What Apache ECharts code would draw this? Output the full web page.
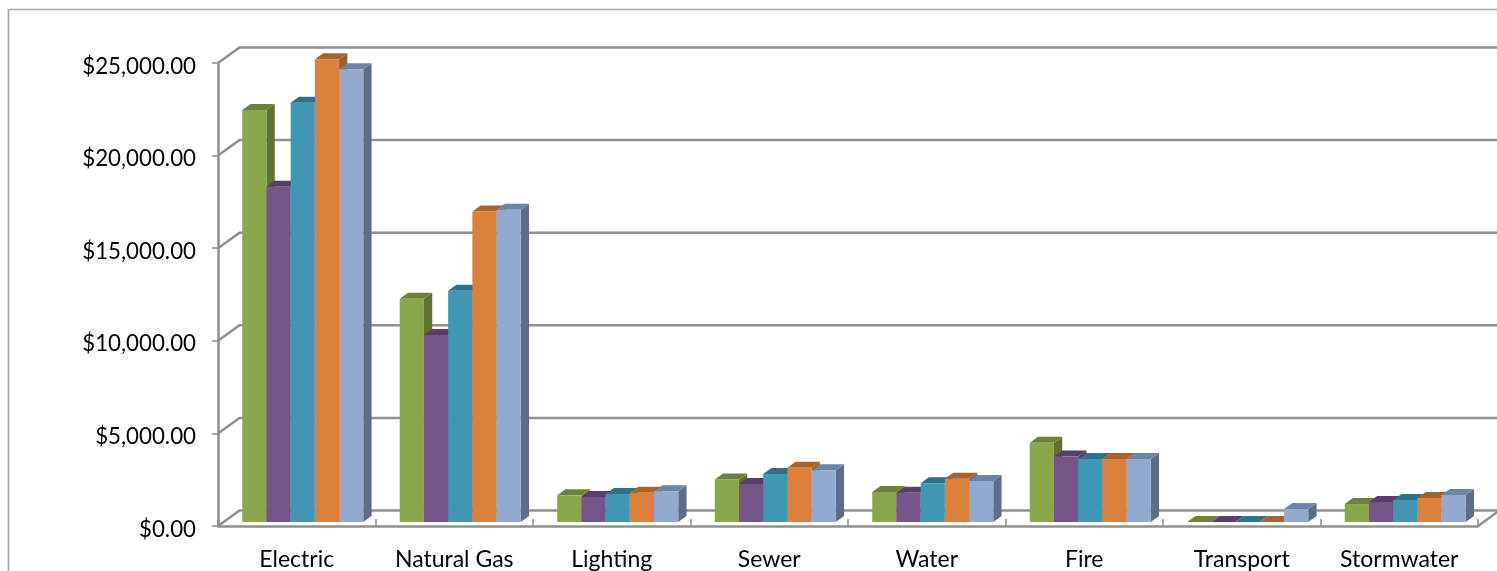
<!DOCTYPE html>
<html><head><meta charset="utf-8">
<style>html,body{margin:0;padding:0;background:#fff}#c{width:1497px;height:571px}</style>
<script src="https://cdn.jsdelivr.net/npm/echarts@6/dist/echarts.min.js"></script>
</head><body><div id="c"></div>
<script>
const categories = ['Electric','Natural Gas','Lighting','Sewer','Water','Fire','Transport','Stormwater'];
const yTicks = [0,5000,10000,15000,20000,25000];
const seriesA = [22250,12060,1440,2300,1620,4280,0,970];
const seriesB = [18100,10100,1350,2050,1580,3530,0,1080];
const seriesC = [22640,12490,1510,2590,2090,3400,0,1190];
const seriesD = [24980,16760,1580,2930,2340,3400,0,1300];
const seriesE = [24440,16860,1660,2790,2210,3400,700,1460];
const palette = [
  {front:'#8aa64c',side:'#5f7232',top:'#6b8237'},
  {front:'#735589',side:'#553e66',top:'#573e6b'},
  {front:'#3f97b4',side:'#2f7286',top:'#2e7288'},
  {front:'#dc813b',side:'#a35d27',top:'#a9622b'},
  {front:'#93a9d0',side:'#5e6d87',top:'#6e83a8'}
];
const wallDx = 21.5, wallDy = -15.5, barShiftX = 6, barShiftY = -4, barDx = 8.3, barDy = -6;
const barFrac = 0.1537;
const gridCol = '#8f8f8f';
const chart = echarts.init(document.getElementById('c'));

function wallItem(params, api){
  const y = api.coord([0, api.value(0)])[1];
  const r = params.coordSys;
  const l = r.x, rt = r.x + r.width;
  const v = api.value(0);
  const pts = v === 0
    ? [[l,y],[l+wallDx,y+wallDy],[rt+wallDx,y+wallDy],[rt,y]]
    : [[l,y],[l+wallDx,y+wallDy],[rt+wallDx+10,y+wallDy]];
  return {type:'polyline',shape:{points:pts},style:{fill:null,stroke:gridCol,lineWidth:2.5},silent:true};
}
function barItem(si){
  return function(params, api){
    const p = api.coord([api.value(0), api.value(1)]);
    const p0 = api.coord([api.value(0), 0]);
    const band = api.size([1,0])[0];
    const w = band*barFrac;
    const c = palette[si];
    const x0 = p[0] - 2.5*w + si*w + barShiftX, x1 = x0 + w;
    const yt = p[1] + barShiftY, yb = p0[1] + barShiftY;
    return {type:'group',children:[
      {type:'polygon',shape:{points:[[x1,yt],[x1+barDx,yt+barDy],[x1+barDx,yb+barDy],[x1,yb]]},style:{fill:c.side}},
      {type:'polygon',shape:{points:[[x0,yt],[x0+barDx,yt+barDy],[x1+barDx,yt+barDy],[x1,yt]]},style:{fill:c.top}},
      {type:'rect',shape:{x:x0,y:yt,width:w,height:yb-yt},style:{fill:c.front}}
    ]};
  };
}
const all = [seriesA,seriesB,seriesC,seriesD,seriesE];
chart.setOption({
  animation:false,
  backgroundColor:'#fff',
  textStyle:{fontFamily:'Lato'},
  graphic:[{type:'rect',z:0,silent:true,shape:{x:8.5,y:9.5,width:2000,height:2000},style:{fill:null,stroke:'#a6a6a6',lineWidth:1.6}}],
  grid:{left:218,right:19,top:63,bottom:45,containLabel:false,outerBoundsMode:'none'},
  xAxis:{type:'category',data:categories,boundaryGap:true,
    axisLine:{show:true,lineStyle:{color:gridCol,width:2.5}},
    axisTick:{show:true,inside:true,length:7,alignWithLabel:false,lineStyle:{color:gridCol,width:1.5}},
    axisLabel:{color:'#000',fontSize:23,margin:22,interval:0,fontFamily:'Lato'},splitLine:{show:false}},
  yAxis:{type:'value',min:0,max:25000,interval:5000,
    axisLine:{show:true,lineStyle:{color:gridCol,width:2.5}},
    axisTick:{show:true,length:6,lineStyle:{color:gridCol,width:1.5}},
    axisLabel:{margin:22,
      rich:{t:{color:'#000',fontSize:22.3,fontFamily:'Lato',padding:[7,0,0,0]}},
      formatter:v=>'{t|$'+v.toLocaleString('en-US',{minimumFractionDigits:2,maximumFractionDigits:2})+'}'},
    splitLine:{show:false}},
  series:[
    {type:'custom',name:'walls',coordinateSystem:'cartesian2d',clip:false,silent:true,z:1,
     encode:{y:0},data:yTicks.map(v=>[v]),renderItem:wallItem},
    ...all.map((arr,si)=>({type:'custom',name:'s'+si,coordinateSystem:'cartesian2d',clip:false,z:3+si,
      encode:{x:0,y:1},data:arr.map((v,i)=>[i,v]),renderItem:barItem(si)}))
  ]
});
</script></body></html>
